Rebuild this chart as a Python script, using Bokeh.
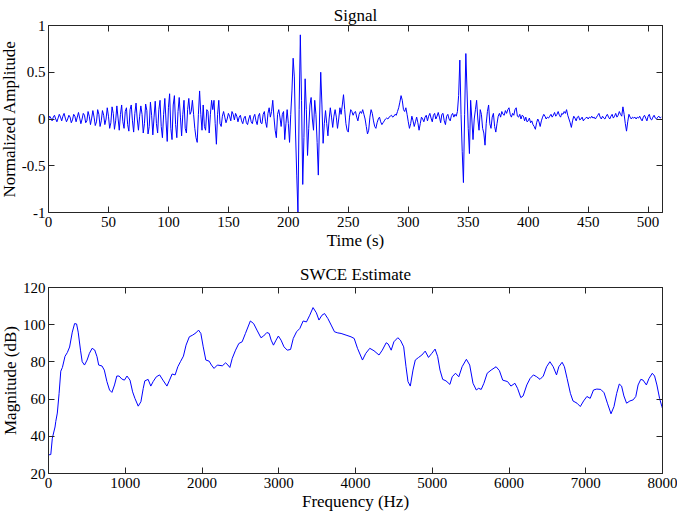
from bokeh.plotting import figure
from bokeh.layouts import column
from bokeh.models import Range1d, LinearAxis, FixedTicker, CustomJSTickFormatter
from bokeh.embed import file_html
from bokeh.resources import INLINE

# ---------------- data ----------------
signal = [
    0.00, 0.03, 0.01, -0.02, 0.02, 0.04, 0.00, -0.03, 0.01, 0.05, 0.02, -0.02, 0.03, 0.06, 0.01, -0.03,
    0.00, 0.04, 0.02, -0.04, -0.01, 0.05, 0.03, -0.03, 0.02, 0.07, 0.01, -0.05, 0.00, 0.06, 0.04, -0.04,
    -0.02, 0.08, 0.03, -0.06, 0.01, 0.09, 0.02, -0.07, -0.03, 0.10, 0.05, -0.08, -0.02, 0.09, 0.04, -0.06,
    0.00, 0.12, 0.03, -0.10, -0.04, 0.13, 0.06, -0.11, -0.02, 0.14, 0.01, -0.12, 0.05, 0.15, -0.03, -0.10,
    0.08, 0.12, -0.06, -0.13, 0.10, 0.15, -0.02, -0.14, 0.06, 0.17, 0.00, -0.12, 0.03, 0.14, 0.05, -0.15,
    -0.05, 0.16, 0.09, -0.16, -0.08, 0.18, 0.04, -0.17, 0.02, 0.19, -0.05, -0.15, 0.10, 0.20, -0.08, -0.20,
    0.05, 0.22, -0.02, -0.24, 0.12, 0.27, -0.10, -0.22, 0.15, 0.25, -0.06, -0.20, 0.08, 0.23, 0.02, -0.18,
    0.05, 0.20, -0.10, -0.15, 0.10, 0.22, 0.05, 0.08, 0.20, 0.05, -0.10, -0.20, -0.25, 0.05, 0.30, 0.05,
    -0.12, 0.15, -0.08, -0.12, 0.10, 0.08, -0.15, 0.05, 0.20, 0.10, 0.20, -0.05, -0.27, 0.05, 0.20, -0.05,
    -0.08, 0.03, 0.08, 0.02, -0.04, 0.00, 0.06, 0.03, -0.02, 0.08, 0.05, -0.01, 0.06, 0.03, -0.03, 0.02,
    0.04, -0.02, -0.05, 0.01, 0.03, -0.04, -0.06, 0.00, 0.04, -0.03, -0.05, 0.02, 0.05, -0.02, -0.06, 0.03,
    0.06, -0.04, -0.05, 0.05, 0.08, -0.03, -0.09, 0.06, 0.12, 0.02, 0.08, 0.20, 0.02, -0.12, -0.20, 0.05,
    0.10, 0.02, -0.08, 0.05, 0.08, -0.22, -0.05, 0.10, -0.05, -0.25, 0.05, 0.30, 0.65, 0.45, -0.15, -0.60,
    -1.00, 0.10, 0.90, 0.20, -0.70, -0.20, 0.43, 0.10, -0.39, -0.10, 0.15, 0.23, 0.00, -0.12, 0.20, 0.05,
    -0.25, -0.60, 0.00, 0.50, 0.15, -0.26, -0.05, 0.09, -0.05, -0.18, 0.00, 0.12, 0.02, -0.09, 0.03, 0.10,
    0.02, -0.10, 0.00, 0.12, 0.05, 0.15, 0.26, 0.10, -0.05, -0.12, -0.14, 0.02, 0.10, 0.08, 0.04, 0.07,
    0.08, 0.02, -0.02, 0.05, 0.08, 0.06, 0.10, 0.05, 0.00, -0.08, -0.16, -0.12, 0.02, 0.10, 0.06, -0.02,
    -0.08, -0.10, -0.04, 0.00, 0.02, -0.03, -0.06, -0.04, -0.02, 0.00, 0.01, 0.00, 0.02, 0.03, 0.04, 0.02,
    0.03, 0.05, 0.04, 0.08, 0.12, 0.18, 0.25, 0.20, 0.10, 0.08, 0.12, 0.05, -0.03, -0.10, -0.05, 0.03,
    -0.02, -0.08, -0.03, 0.02, -0.04, -0.12, -0.05, 0.02, 0.00, -0.03, 0.02, 0.04, -0.02, 0.03, 0.06, 0.01,
    -0.03, 0.04, 0.06, 0.00, 0.03, 0.07, 0.02, -0.04, 0.05, 0.06, -0.02, -0.06, 0.03, 0.05, 0.00, -0.02,
    0.04, 0.06, 0.02, 0.05, 0.03, 0.08, 0.25, 0.63, 0.05, -0.35, -0.68, 0.05, 0.70, 0.30, -0.10, -0.37,
    0.20, 0.00, -0.22, 0.00, 0.10, 0.20, 0.00, -0.12, 0.10, 0.05, -0.10, -0.15, -0.28, -0.05, 0.08, 0.15,
    -0.05, -0.10, 0.02, 0.06, -0.08, -0.14, -0.05, 0.03, 0.06, 0.02, 0.08, 0.05, 0.04, 0.09, 0.06, 0.10,
    0.12, 0.05, 0.02, 0.06, 0.04, 0.10, 0.12, 0.03, 0.02, 0.05, 0.00, 0.04, 0.03, -0.02, 0.02, -0.03,
    -0.02, 0.01, -0.04, -0.02, -0.06, -0.08, -0.11, -0.04, 0.00, -0.03, -0.08, -0.02, 0.02, 0.05, 0.03, 0.00,
    0.02, 0.01, 0.03, 0.05, 0.02, 0.04, 0.07, 0.03, 0.05, 0.08, 0.04, 0.02, 0.06, 0.05, 0.08, 0.06,
    0.10, 0.04, 0.00, -0.04, -0.09, -0.02, 0.03, 0.01, -0.02, 0.02, 0.03, -0.01, 0.00, 0.02, -0.02, 0.00,
    0.01, 0.02, 0.00, 0.02, 0.01, 0.03, 0.01, 0.02, 0.00, 0.02, 0.04, 0.06, 0.02, 0.00, 0.03, 0.01,
    0.00, 0.03, 0.05, 0.02, 0.00, 0.03, 0.05, 0.01, 0.03, 0.06, 0.02, 0.04, 0.08, 0.05, 0.03, 0.13,
    0.05, -0.05, -0.13, -0.03, 0.05, 0.02, 0.00, 0.02, 0.01, 0.02, 0.00, 0.02, 0.01, 0.03, 0.00, -0.02,
    0.02, 0.04, 0.01, -0.02, 0.03, 0.05, 0.00, -0.01, 0.02, 0.04, 0.01, 0.00, 0.02, 0.03, 0.01, 0.02,
]
time_s = list(range(len(signal)))

freq_hz = [
    0, 30, 50, 85, 95, 115, 138, 160, 181, 215, 245, 275, 310, 340, 366, 387, 417, 439, 469, 503,
    533, 568, 602, 632, 654, 697, 727, 761, 795, 826, 860, 890, 920, 955, 989, 1023, 1062, 1096, 1126, 1169,
    1204, 1234, 1255, 1298, 1333, 1363, 1405, 1448, 1491, 1543, 1577, 1611, 1650, 1685, 1719, 1758, 1792, 1835, 1878, 1921,
    1955, 1985, 2016, 2050, 2093, 2123, 2157, 2200, 2265, 2308, 2338, 2363, 2394, 2437, 2480, 2523, 2566, 2630, 2673, 2716,
    2768, 2802, 2845, 2875, 2901, 2931, 2965, 2995, 3030, 3068, 3111, 3154, 3189, 3232, 3275, 3318, 3361, 3404, 3447, 3490,
    3524, 3563, 3597, 3640, 3683, 3726, 3769, 3812, 3877, 3941, 3983, 4026, 4091, 4134, 4186, 4241, 4306, 4349, 4400, 4426,
    4465, 4500, 4551, 4585, 4628, 4658, 4684, 4714, 4749, 4779, 4822, 4865, 4908, 4951, 4994, 5037, 5071, 5101, 5136, 5179,
    5230, 5260, 5303, 5346, 5389, 5445, 5488, 5531, 5574, 5604, 5638, 5673, 5716, 5767, 5832, 5875, 5918, 5982, 6025, 6077,
    6111, 6154, 6184, 6232, 6275, 6318, 6361, 6404, 6447, 6490, 6533, 6576, 6619, 6649, 6692, 6722, 6757, 6800, 6834, 6886,
    6929, 6972, 7015, 7058, 7101, 7144, 7196, 7239, 7282, 7329, 7368, 7403, 7437, 7467, 7497, 7532, 7575, 7618, 7652, 7682,
    7717, 7747, 7790, 7824, 7867, 7897, 7927, 7962, 7992, 8000,
]
magnitude_db = [
    30.0, 30.2, 39.0, 45.0, 48.0, 52.5, 63.0, 75.0, 77.0, 83.0, 85.0, 88.0, 96.0, 100.6, 100.4, 96.0, 86.3, 80.1, 78.3, 81.0,
    84.6, 87.3, 86.4, 82.8, 78.3, 77.8, 75.6, 69.4, 64.9, 63.6, 67.6, 72.4, 72.4, 70.8, 70.2, 72.4, 70.2, 63.9, 60.4, 56.2,
    58.6, 65.7, 69.8, 70.6, 67.0, 69.4, 72.0, 73.0, 70.2, 67.0, 70.2, 73.5, 73.0, 77.4, 80.1, 83.1, 89.0, 93.5, 94.4, 95.6,
    97.1, 95.3, 88.1, 81.0, 80.4, 78.3, 76.5, 78.3, 77.9, 79.5, 78.3, 77.0, 81.9, 86.3, 89.9, 90.8, 95.3, 102.0, 100.6, 97.1,
    93.0, 93.9, 95.8, 95.3, 91.7, 89.0, 91.7, 93.9, 91.7, 88.1, 86.3, 86.7, 92.6, 96.2, 98.0, 102.0, 101.5, 105.1, 109.2, 106.4,
    102.5, 105.1, 106.0, 103.3, 99.8, 96.2, 95.6, 95.3, 94.4, 93.5, 92.6, 87.3, 81.0, 84.6, 87.3, 86.0, 83.7, 86.3, 90.3, 89.6,
    86.3, 90.8, 93.0, 91.7, 88.1, 77.4, 69.4, 67.0, 75.6, 81.0, 82.4, 83.7, 85.8, 82.4, 84.6, 86.9, 82.8, 75.6, 70.6, 69.8,
    67.9, 72.0, 73.9, 72.0, 77.4, 81.4, 78.3, 68.5, 64.9, 65.8, 65.2, 68.5, 73.9, 75.6, 77.4, 75.3, 70.2, 69.4, 67.0, 68.5,
    65.8, 60.8, 61.7, 67.6, 71.1, 73.0, 72.0, 70.6, 72.4, 77.4, 80.1, 77.4, 73.0, 77.4, 79.8, 77.4, 71.1, 63.1, 59.0, 57.8,
    56.0, 59.0, 61.4, 60.4, 64.9, 65.4, 65.2, 63.4, 57.8, 52.1, 56.0, 63.1, 68.1, 67.0, 61.7, 57.8, 59.0, 59.6, 61.4, 67.6,
    70.6, 70.2, 67.6, 71.1, 73.9, 72.4, 67.6, 60.4, 56.0, 55.0,
]

time_ticks = [0, 50, 100, 150, 200, 250, 300, 350, 400, 450, 500]
amp_ticks = [-1, -0.5, 0, 0.5, 1]
freq_ticks = [0, 1000, 2000, 3000, 4000, 5000, 6000, 7000, 8000]
db_ticks = [20, 40, 60, 80, 100, 120]

FONT = "'Liberation Serif', serif"
AX_COLOR = "#262626"
LINE_COLOR = "#0000ff"

num_fmt = CustomJSTickFormatter(code="return tick.toString();")
blank_fmt = CustomJSTickFormatter(code="return '';")


def style_axis(ax, ticks, labelled):
    ax.ticker = FixedTicker(ticks=ticks)
    ax.major_tick_in = 6
    ax.major_tick_out = 0
    ax.minor_tick_line_color = None
    ax.axis_line_color = AX_COLOR
    ax.major_tick_line_color = AX_COLOR
    ax.major_label_text_font = FONT
    ax.major_label_text_color = "black"
    ax.axis_label_text_font = FONT
    ax.axis_label_text_font_size = "17px"
    ax.axis_label_text_font_style = "normal"
    ax.axis_label_text_color = "black"
    if labelled:
        ax.formatter = num_fmt
        ax.major_label_text_font_size = "15px"
    else:
        ax.formatter = blank_fmt
        ax.major_label_text_font_size = "1px"
        ax.major_label_standoff = 0
        ax.axis_label_standoff = 0


def make_fig(title, xr, yr, xticks, yticks, xlabel, ylabel, height, border_top,
             border_bottom, title_standoff):
    p = figure(width=681, height=height, output_backend="svg", toolbar_location=None,
               x_range=xr, y_range=yr, min_border_left=45, min_border_right=15,
               min_border_top=border_top, min_border_bottom=border_bottom)
    p.grid.visible = False
    p.outline_line_color = AX_COLOR
    p.background_fill_color = "white"
    p.border_fill_color = "white"
    p.title.text = title
    p.title.align = "center"
    p.title.text_font = FONT
    p.title.text_font_size = "17px"
    p.title.text_font_style = "normal"
    p.title.text_color = "black"
    p.title.standoff = title_standoff
    style_axis(p.xaxis[0], xticks, True)
    style_axis(p.yaxis[0], yticks, True)
    p.xaxis[0].axis_label = xlabel
    p.yaxis[0].axis_label = ylabel
    p.xaxis[0].major_label_standoff = 4
    p.yaxis[0].major_label_standoff = 3
    p.xaxis[0].axis_label_standoff = 1
    p.yaxis[0].axis_label_standoff = 0
    top = LinearAxis()
    style_axis(top, xticks, False)
    right = LinearAxis()
    style_axis(right, yticks, False)
    p.add_layout(top, "above")
    p.add_layout(right, "right")
    return p


p1 = make_fig("Signal", Range1d(0, 512), Range1d(-1, 1), time_ticks, amp_ticks,
              "Time (s)", "Normalized Amplitude", 256, 25, 44, 2)
p1.line(time_s, signal, line_color=LINE_COLOR, line_width=1)

p2 = make_fig("SWCE Estimate", Range1d(0, 8000), Range1d(20, 120), freq_ticks, db_ticks,
              "Frequency (Hz)", "Magnitude (dB)", 257, 31, 39, 8)
p2.line(freq_hz, magnitude_db, line_color=LINE_COLOR, line_width=1)

layout = column(p1, p2, margin=(0, 0, -8, -4), spacing=0)

open("out.html", "w").write(file_html(layout, INLINE))
